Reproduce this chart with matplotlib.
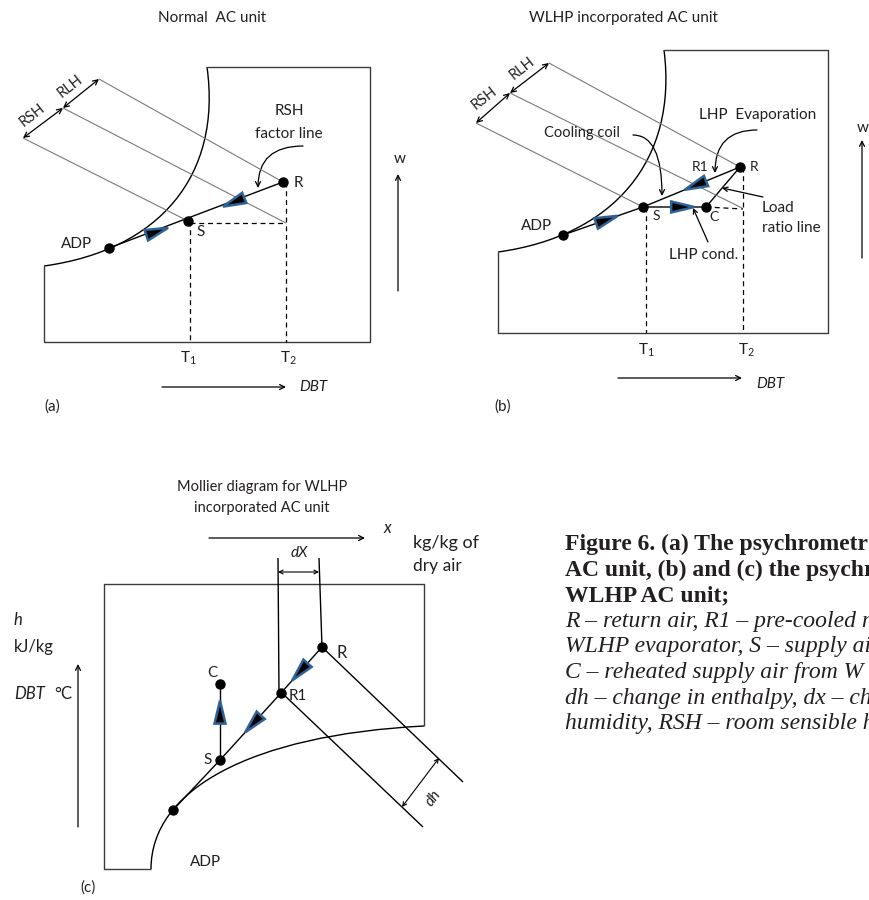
import matplotlib.pyplot as plt
from matplotlib.patches import FancyArrowPatch, PathPatch, Polygon
from matplotlib.path import Path

plt.rcParams["font.family"] = ["Lato", "DejaVu Sans"]
plt.rcParams["mathtext.fontset"] = "custom"
plt.rcParams["mathtext.rm"] = "Lato"
plt.rcParams["mathtext.it"] = "Lato:italic"

# sketch coordinates are in pixels of the 870x900 page (y grows downwards)

# panel (a) - normal AC unit
A_BOX = [(207, 67), (370, 67), (370, 342), (44, 342), (44, 266)]
A_CURVE = [(44, 266), (160, 250), (222, 175), (207, 67)]
A_ADP, A_S, A_R = (109, 248), (188, 221), (283, 182)
A_DASHED = [[(190, 221), (190, 342)], [(286, 182), (286, 342)], [(190, 223), (286, 223)]]
A_LEADERS = [[(23, 138), (188, 221)], [(63, 108), (286, 223)], [(99, 79), (283, 182)]]
A_DIMS = [[(23, 138), (63, 108)], [(63, 108), (99, 79)]]
A_FLOW = [(A_ADP, A_S, 0.61), (A_R, A_S, 0.52)]

# panel (b) - WLHP incorporated AC unit
B_BOX = [(664, 50), (828, 50), (828, 333), (498, 333), (498, 252)]
B_CURVE = [(498, 252), (614, 236), (678, 160), (664, 50)]
B_ADP, B_S, B_R, B_C = (563, 235), (643, 207), (740, 167), (706, 207)
B_DASHED = [[(646, 207), (646, 333)], [(743, 167), (743, 333)], [(706, 207), (743, 209)]]
B_LEADERS = [[(476, 123), (643, 207)], [(510, 93), (742, 208)], [(549, 63), (740, 167)]]
B_DIMS = [[(476, 123), (510, 93)], [(510, 93), (549, 63)]]
B_FLOW = [(B_ADP, B_S, 0.55), (B_R, B_S, 0.46), (B_S, B_C, 0.63)]

# panel (c) - Mollier diagram
C_BOX = [(151, 869), (104, 869), (104, 584), (424, 584), (424, 726)]
C_CURVE = [(151, 869), (151, 790), (250, 735), (424, 726)]
C_ADP, C_S, C_R1, C_R, C_C = (173, 810), (220, 760), (281, 693), (322, 647), (220, 684)
C_UPLINES = [[(279, 693), (278, 558)], [(322, 647), (319, 558)]]
C_DIAG = [[(322, 647), (463, 782)], [(282, 693), (423, 827)]]
C_FLOW = [(C_R, C_R1, 0.54), (C_R1, C_S, 0.46), (C_S, C_C, 0.63)]

# caption, as much of it as the page shows
CAPTION_BOLD = [
    "Figure 6. (a) The psychrometr",
    "AC unit, (b) and (c) the psychr",
    "WLHP AC unit;",
]
CAPTION_IT = [
    "R – return air, R1 – pre-cooled r",
    "WLHP evaporator, S – supply ai",
    "C – reheated supply air from W",
    "dh – change in enthalpy, dx – ch",
    "humidity, RSH – room sensible h",
]

fig = plt.figure(figsize=(8.7, 9), dpi=100)
fig.patch.set_facecolor("white")
ax = fig.add_axes([0, 0, 1, 1])
ax.set_xlim(0, 870)
ax.set_ylim(900, 0)
ax.axis("off")


def line(pts, **kw):
    xs, ys = zip(*pts)
    kw.setdefault("color", "black")
    kw.setdefault("lw", 1.0)
    ax.plot(xs, ys, solid_capstyle="butt", **kw)


def curve(ctrl):
    path = Path(ctrl, [Path.MOVETO, Path.CURVE4, Path.CURVE4, Path.CURVE4])
    ax.add_patch(PathPatch(path, fill=False, color="black", lw=1.0))


def dot(p):
    ax.plot(*p, "o", color="black", ms=6.5, zorder=5)


def flow(p, q, frac, length=23, half=5.5):
    dx, dy = q[0] - p[0], q[1] - p[1]
    n = (dx ** 2 + dy ** 2) ** 0.5
    ux, uy = dx / n, dy / n
    cx, cy = p[0] + frac * dx, p[1] + frac * dy
    tip = (cx + ux * length / 2, cy + uy * length / 2)
    b1 = (cx - ux * length / 2 - uy * half, cy - uy * length / 2 + ux * half)
    b2 = (cx - ux * length / 2 + uy * half, cy - uy * length / 2 - ux * half)
    ax.add_patch(Polygon([tip, b1, b2], closed=True, facecolor="black",
                         edgecolor="#2f6296", lw=1.8, zorder=6))


def arrow(p, q, style="->", conn="arc3", lw=0.9, ms=8, color="black"):
    ax.add_patch(FancyArrowPatch(p, q, arrowstyle=style, connectionstyle=conn,
                                 mutation_scale=ms, lw=lw, color=color,
                                 shrinkA=0, shrinkB=0))


def label(x, y, s, size=11, **kw):
    kw.setdefault("ha", "center")
    kw.setdefault("va", "center")
    ax.text(x, y, s, fontsize=size, color="#231f20", **kw)


def psy_panel(box, crv, dashed, leaders, dims, flows, pts):
    line(box, color="#3c3c3c", lw=1.0)
    curve(crv)
    for seg in dashed:
        line(seg, ls=(0, (4, 3)), lw=0.9)
    for seg in leaders:
        line(seg, color="#7a7a7a", lw=0.8)
    for p, q in dims:
        arrow(p, q, style="<->", lw=0.9, ms=9)
    for p, q, f in flows:
        flow(p, q, f)
    for p in pts:
        dot(p)


# ---- (a) ----
line([A_ADP, A_R])
psy_panel(A_BOX, A_CURVE, A_DASHED, A_LEADERS, A_DIMS, A_FLOW, [A_ADP, A_S, A_R])
label(212, 18, "Normal  AC unit", 11)
label(32, 115, "RSH", 10.5, rotation=38)
label(70, 86, "RLH", 10.5, rotation=38)
label(289, 111, "RSH", 11)
label(289, 134, "factor line", 11)
arrow((303, 146), (258, 188), conn="angle3,angleA=0,angleB=90", ms=9)
label(298, 183, "R", 11)
label(201, 232, "S", 11)
label(77, 244, "ADP", 11)
label(188, 358, r"T$_1$", 11)
label(288, 358, r"T$_2$", 11)
arrow((162, 387), (286, 387), ms=9)
label(313, 387, "DBT", 11, style="italic")
label(52, 407, "(a)", 11)
arrow((398, 291), (398, 174), ms=9)
label(400, 159, "w", 11)

# ---- (b) ----
line([B_ADP, B_S, B_R])
line([B_S, B_C, B_R])
psy_panel(B_BOX, B_CURVE, B_DASHED, B_LEADERS, B_DIMS, B_FLOW, [B_ADP, B_S, B_R, B_C])
label(623, 18, "WLHP incorporated AC unit", 11)
label(484, 98, "RSH", 10.5, rotation=38)
label(522, 68, "RLH", 10.5, rotation=38)
label(582, 133, "Cooling coil", 10.5)
arrow((633, 135), (662, 196), conn="angle3,angleA=0,angleB=90", ms=9)
label(758, 115, "LHP  Evaporation", 11)
arrow((757, 130), (715, 173), conn="angle3,angleA=0,angleB=90", ms=9)
label(762, 208, "Load", 11, ha="left")
label(762, 228, "ratio line", 11, ha="left")
arrow((763, 197), (722, 188), ms=8)
label(704, 255, "LHP cond.", 11)
arrow((708, 242), (693, 208), ms=8)
label(700, 167, "R1", 10)
label(754, 167, "R", 10)
label(656, 216, "S", 10)
label(714, 217, "C", 10)
label(537, 226, "ADP", 11)
label(646, 350, r"T$_1$", 11)
label(746, 350, r"T$_2$", 11)
arrow((618, 378), (742, 378), ms=9)
label(770, 384, "DBT", 11, style="italic")
label(503, 407, "(b)", 11)
arrow((862, 258), (862, 140), ms=9)
label(863, 128, "w", 11)

# ---- (c) ----
line(C_BOX, color="#3c3c3c")
curve(C_CURVE)
line([C_ADP, C_S, C_R1, C_R])
line([C_S, C_C])
for seg in C_UPLINES + C_DIAG:
    line(seg)
for p, q, f in C_FLOW:
    flow(p, q, f)
for p in [C_ADP, C_S, C_R1, C_R, C_C]:
    dot(p)
arrow((278, 572), (319, 572), style="<->", lw=0.8, ms=7)
arrow((402, 807), (439, 758), style="<->", lw=0.8, ms=7)
label(262, 487, "Mollier diagram for WLHP", 10.5)
label(262, 508, "incorporated AC unit", 10.5)
arrow((209, 538), (365, 538), ms=9)
label(387, 528, "x", 12, style="italic")
label(413, 543, "kg/kg of", 13, ha="left")
label(413, 566, "dry air", 12.5, ha="left")
label(299, 553, "dX", 11, style="italic")
label(433, 798, "dh", 11, style="italic", rotation=53)
label(342, 653, "R", 12)
label(298, 696, "R1", 11)
label(212, 673, "C", 11)
label(208, 760, "S", 11)
label(206, 862, "ADP", 11)
label(18, 620, "h", 12, style="italic")
label(14, 647, "kJ/kg", 12, ha="left")
label(14, 694, "DBT", 12, ha="left", style="italic")
label(63, 694, "°C", 12)
arrow((78, 827), (78, 664), ms=9)
label(88, 888, "(c)", 11)

# ---- caption ----
for i, s in enumerate(CAPTION_BOLD):
    ax.text(565, 550 + 25.6 * i, s, fontsize=17, family="Liberation Serif",
            weight="bold", color="#231f20", va="baseline", ha="left")
for i, s in enumerate(CAPTION_IT):
    ax.text(565, 550 + 25.6 * (i + 3), s, fontsize=17, family="Liberation Serif",
            style="italic", color="#231f20", va="baseline", ha="left")

fig.savefig("out.png", dpi=100)
